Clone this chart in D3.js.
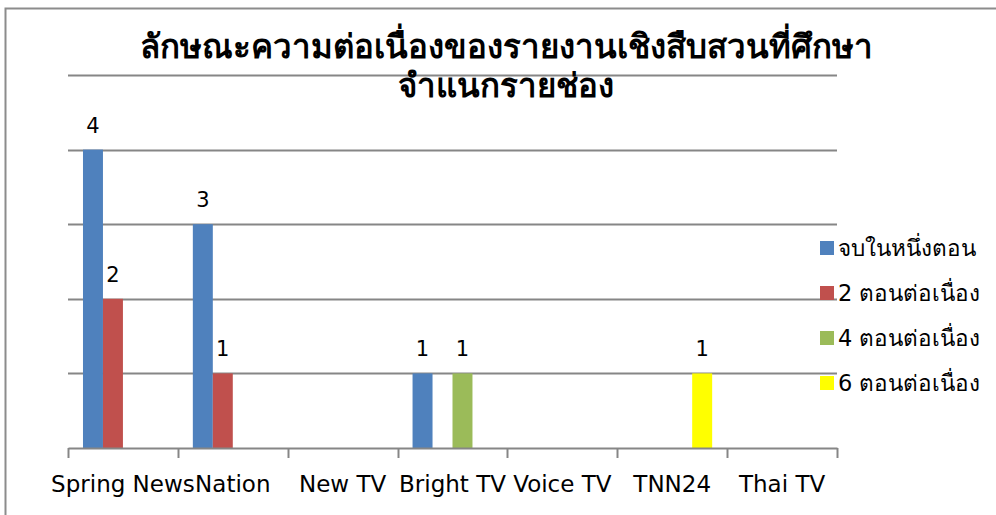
<!DOCTYPE html>
<html><head><meta charset="utf-8">
<script src="https://cdn.jsdelivr.net/npm/d3@7"></script>
<style>body{margin:0;background:#fff}svg{display:block}</style>
</head><body>
<script>
const titleLines = ["ลักษณะความต่อเนื่องของรายงานเชิงสืบสวนที่ศึกษา", "จำแนกรายช่อง"];
const categories = ["Spring News", "Nation", "New TV", "Bright TV", "Voice TV", "TNN24", "Thai TV"];
const seriesNames = ["จบในหนึ่งตอน", "2 ตอนต่อเนื่อง", "4 ตอนต่อเนื่อง", "6 ตอนต่อเนื่อง"];
const seriesColors = ["#4F81BD", "#C0504D", "#9BBB59", "#FFFF00"];
const s1 = [4, 3, 0, 1, 0, 0, 0];
const s2 = [2, 1, 0, 0, 0, 0, 0];
const s3 = [0, 0, 0, 1, 0, 0, 0];
const s4 = [0, 0, 0, 0, 0, 1, 0];
const seriesValues = [s1, s2, s3, s4];
const yTicks = [0, 1, 2, 3, 4, 5];

const W = 996, H = 515;
const svg = d3.select("body").append("svg").attr("width", W).attr("height", H);
const font = "Tahoma, 'DejaVu Sans', 'Noto Sans', sans-serif";

svg.append("rect").attr("x", 5.5).attr("y", 8.5).attr("width", 1000).attr("height", 520)
  .attr("fill", "#fff").attr("stroke", "#8c8c8c").attr("stroke-width", 2);

const x0 = d3.scaleBand().domain(categories).range([68, 837]).padding(0);
const x1 = d3.scaleBand().domain(d3.range(4)).range([0, x0.bandwidth()]).paddingInner(0).paddingOuter(0.75);
const y = d3.scaleLinear().domain([0, 5]).range([448, 75]);

// gridlines
svg.append("g").selectAll("line").data(yTicks.filter(d => d > 0)).join("line")
  .attr("x1", 68).attr("x2", 837).attr("y1", d => Math.round(y(d)) + 0.5).attr("y2", d => Math.round(y(d)) + 0.5)
  .attr("stroke", "#868686").attr("stroke-width", 2);

// title
svg.append("g").selectAll("text").data(titleLines).join("text")
  .attr("x", 506).attr("y", (d, i) => 58 + i * 39)
  .attr("text-anchor", "middle").attr("font-family", font).attr("font-weight", "bold")
  .attr("font-size", 33).attr("fill", "#000").text(d => d);

// bars
const data = [];
categories.forEach((c, ci) => seriesValues.forEach((arr, si) => data.push({c, si, v: arr[ci]})));
svg.append("g").selectAll("rect").data(data.filter(d => d.v > 0)).join("rect")
  .attr("x", d => x0(d.c) + x1(d.si)).attr("width", x1.bandwidth())
  .attr("y", d => y(d.v)).attr("height", d => y(0) - y(d.v))
  .attr("fill", d => seriesColors[d.si]);

// data labels
svg.append("g").selectAll("text").data(data.filter(d => d.v > 0)).join("text")
  .attr("x", d => x0(d.c) + x1(d.si) + x1.bandwidth() / 2).attr("y", d => y(d.v) - 17)
  .attr("text-anchor", "middle").attr("font-family", font).attr("font-size", 21).attr("fill", "#000")
  .text(d => d.v);

// x axis
const xAxis = d3.axisBottom(x0).tickSize(0).tickFormat(d => d);
const gx = svg.append("g").attr("transform", "translate(0,448)").call(xAxis);
gx.select(".domain").attr("stroke", "#868686").attr("stroke-width", 2);
gx.selectAll("text").attr("font-family", font).attr("font-size", 23).attr("fill", "#000").attr("dy", 0).attr("y", 44);
const bounds = categories.map(c => x0(c)).concat([x0.range()[1]]);
svg.append("g").selectAll("line").data(bounds).join("line")
  .attr("x1", d => Math.round(d) + 0.5).attr("x2", d => Math.round(d) + 0.5).attr("y1", 448).attr("y2", 458)
  .attr("stroke", "#868686").attr("stroke-width", 2);

// legend
const lg = svg.append("g").selectAll("g").data(seriesNames).join("g")
  .attr("transform", (d, i) => `translate(820,${248 + i * 45})`);
lg.append("rect").attr("x", 0).attr("y", -7).attr("width", 14).attr("height", 14).attr("fill", (d, i) => seriesColors[i]);
lg.append("text").attr("x", 18).attr("y", 8).attr("font-family", font).attr("font-size", 22.5).attr("fill", "#000").text(d => d);
</script>
</body></html>
